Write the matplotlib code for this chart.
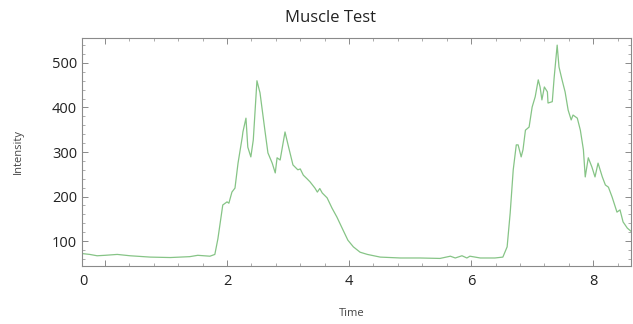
import numpy as np
import matplotlib.pyplot as plt
import matplotlib.transforms as mtransforms
from matplotlib.ticker import MultipleLocator

# ==========================
# Data
# ==========================
time = [-0.38, -0.25, -0.13, 0.0, 0.20, 0.41, 0.74, 1.07, 1.39, 1.52, 1.72, 1.80,
        1.85, 1.93, 2.00, 2.03, 2.08, 2.13, 2.18, 2.25, 2.26, 2.31, 2.34, 2.39,
        2.43, 2.49, 2.54, 2.62, 2.67, 2.74, 2.79, 2.82, 2.87, 2.95, 3.00, 3.08,
        3.16, 3.20, 3.25, 3.31, 3.36, 3.44, 3.48, 3.52, 3.56, 3.64, 3.72, 3.80,
        3.90, 3.98, 4.07, 4.18, 4.30, 4.51, 4.84, 5.16, 5.49, 5.66, 5.74, 5.85,
        5.93, 5.98, 6.15, 6.39, 6.52, 6.59, 6.64, 6.69, 6.74, 6.77, 6.82, 6.85,
        6.89, 6.95, 7.00, 7.05, 7.10, 7.13, 7.16, 7.20, 7.25, 7.26, 7.33, 7.36,
        7.41, 7.44, 7.49, 7.54, 7.59, 7.64, 7.67, 7.74, 7.79, 7.84, 7.87, 7.92,
        7.98, 8.03, 8.08, 8.15, 8.20, 8.25, 8.31, 8.39, 8.44, 8.49, 8.56, 8.62]
intensity = [72, 70, 67, 68, 70, 67, 64, 63, 65, 68, 66, 70,
             105, 181, 188, 185, 210, 219, 275, 334, 345, 376, 311, 289,
             327, 460, 433, 349, 298, 275, 253, 287, 282, 345, 316, 271,
             260, 262, 248, 240, 233, 219, 210, 218, 208, 197, 174, 154,
             125, 102, 87, 75, 70, 64, 62, 62, 61, 66, 62, 67,
             62, 66, 62, 62, 64, 87, 163, 260, 316, 316, 289, 305,
             349, 356, 401, 424, 462, 446, 417, 446, 435, 410, 413, 466,
             540, 491, 462, 435, 394, 372, 383, 376, 349, 305, 244, 287,
             266, 244, 275, 244, 226, 221, 199, 165, 170, 143, 129, 122]

# ==========================
# Plot
# ==========================
plt.rcParams['font.family'] = ['Open Sans', 'DejaVu Sans']

fig = plt.figure(figsize=(6.33, 3.24), dpi=100)
ax = fig.add_axes([82 / 633, 58 / 324, 549 / 633, 228 / 324])

ax.plot(time, intensity, color="#86c486", lw=0.9)

ax.set_xlim(-0.377, 8.62)
ax.set_ylim(44, 556)

ax.xaxis.set_major_locator(MultipleLocator(2))
ax.xaxis.set_minor_locator(MultipleLocator(0.4))
ax.yaxis.set_major_locator(MultipleLocator(100))
ax.yaxis.set_minor_locator(MultipleLocator(20))

ax.tick_params(which="both", direction="in", top=True, right=True,
               colors="#8a8a8a", labelcolor="#222222", labelsize=10.5)
ax.tick_params(which="major", length=4, width=0.7)
ax.tick_params(which="minor", length=2, width=0.5)
ax.tick_params(axis="x", pad=6)
for s in ax.spines.values():
    s.set_color("#8a8a8a")
    s.set_linewidth(0.8)

# the "0" label sits at the left frame edge in the original
fig.canvas.draw()
for lbl in ax.get_xticklabels():
    if lbl.get_text() == "0":
        lbl.set_transform(lbl.get_transform() +
                          mtransforms.ScaledTranslation(-0.22, 0, fig.dpi_scale_trans))

fig.text(330 / 633, 1 - 18 / 324, "Muscle Test", ha="center", va="center",
         fontsize=12, color="#222222")
fig.text(18 / 633, 1 - 152 / 324, "Intensity", rotation=90, ha="center",
         va="center", fontsize=8, color="#444444")
fig.text(352 / 633, 1 - 313 / 324, "Time", ha="center", va="center",
         fontsize=8, color="#444444")

plt.savefig("out.png", dpi=100)
